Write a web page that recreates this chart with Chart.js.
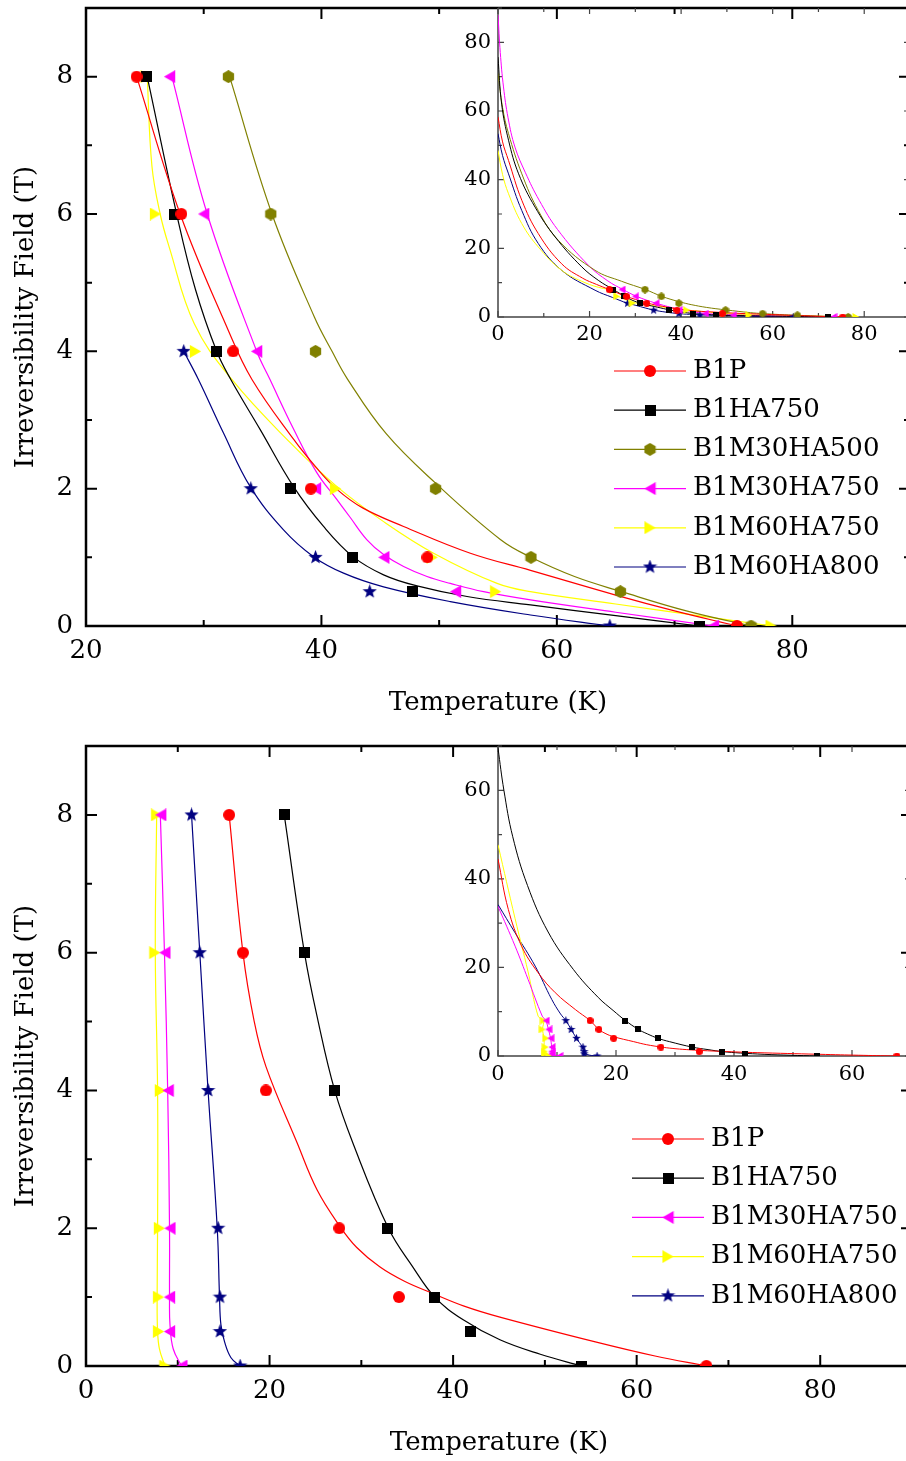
<!DOCTYPE html>
<html>
<head>
<meta charset="utf-8">
<title>Irreversibility field vs temperature</title>
<script src="https://cdn.jsdelivr.net/npm/chart.js@4/dist/chart.umd.min.js"></script>
<style>
  html, body { margin: 0; padding: 0; background: #fff; overflow: hidden; }
  .panel { position: relative; width: 906px; }
  canvas { position: absolute; }
</style>
</head>
<body>
<div class="panel" style="height:738px">
  <canvas id="topMain" width="920" height="738" style="left:0;top:0"></canvas>
  <canvas id="topInset" width="480" height="350" style="left:440px;top:0"></canvas>
</div>
<div class="panel" style="height:723px">
  <canvas id="botMain" width="920" height="723" style="left:0;top:0"></canvas>
  <canvas id="botInset" width="480" height="345" style="left:440px;top:0"></canvas>
</div>
<script>
// Irreversibility field (T) vs temperature (K), two sample sets, each with a zoomed-out inset

// ---------- top panel data ----------
const topSeries = ['B1P', 'B1HA750', 'B1M30HA500', 'B1M30HA750', 'B1M60HA750', 'B1M60HA800'];

// measured points
const topT_B1P = [24.3, 28.1, 32.5, 39.1, 49.0, 75.3];
const topH_B1P = [8, 6, 4, 2, 1, 0];
const topT_HA750 = [25.1, 27.5, 31.05, 37.4, 42.6, 47.7, 72.1];
const topH_HA750 = [8, 6, 4, 2, 1, 0.5, 0];
const topT_M30HA500 = [32.1, 35.7, 39.5, 49.7, 57.8, 65.4, 76.5];
const topH_M30HA500 = [8, 6, 4, 2, 1, 0.5, 0];
const topT_M30HA750 = [27.1, 30.0, 34.5, 39.5, 45.3, 51.4, 73.3];
const topH_M30HA750 = [8, 6, 4, 2, 1, 0.5, 0];
const topT_M60HA750 = [25.1, 25.9, 29.3, 41.2, 49.4, 54.8, 78.2];
const topH_M60HA750 = [8, 6, 4, 2, 1, 0.5, 0];
const topT_M60HA800 = [28.3, 34.0, 39.5, 44.1, 64.5];
const topH_M60HA800 = [4, 2, 1, 0.5, 0];

// fitted curves [T, H]
const topFit_B1P = [[24.3, 8], [28.0, 6], [32.1, 4.3], [34.1, 3.59], [37.63, 2.72], [39.5, 2.32], [41.32, 1.99], [43.5, 1.72], [46.98, 1.45], [52.65, 1.06], [57.76, 0.81], [65.0, 0.45], [70.0, 0.22], [75.3, 0]];
const topFit_HA750 = [[25.2, 8], [27.7, 6], [29.3, 4.9], [31.1, 4.0], [32.3, 3.59], [34.8, 2.86], [37.63, 2.03], [40.18, 1.45], [42.68, 1.01], [45.28, 0.745], [48.12, 0.584], [52.37, 0.43], [57.76, 0.307], [65.0, 0.15], [72.1, 0]];
const topFit_M30HA500 = [[32.2, 8], [35.8, 6], [39.4, 4.5], [40.9, 4.0], [42.2, 3.6], [45.5, 2.8], [49.7, 2.08], [55.2, 1.26], [57.8, 1.0], [61.5, 0.72], [65.5, 0.5], [71.0, 0.22], [76.5, 0]];
const topFit_M30HA750 = [[27.3, 8], [30.3, 6], [34.5, 4], [35.6, 3.6], [37.6, 2.88], [39.62, 2.23], [41.32, 1.84], [42.45, 1.58], [43.87, 1.255], [45.28, 1.04], [46.98, 0.866], [48.97, 0.72], [50.95, 0.62], [53.78, 0.5], [57.76, 0.38], [65.0, 0.2], [73.3, 0]];
const topFit_M60HA750 = [[25.2, 8], [25.6, 6.7], [26.3, 6], [27.1, 5.5], [29.2, 4.4], [32.39, 3.59], [37.35, 2.67], [41.32, 2.03], [45.28, 1.52], [49.53, 1.06], [54.92, 0.62], [57.76, 0.5], [65.0, 0.32], [72.0, 0.15], [78.3, 0]];
const topFit_M60HA800 = [[28.3, 4], [29.55, 3.59], [31.68, 2.81], [33.95, 2.03], [36.78, 1.40], [39.33, 1.01], [41.88, 0.77], [45.28, 0.57], [50.95, 0.355], [57.76, 0.16], [64.5, 0]];

// low-temperature part of the fits, only seen in the inset
const topHead_B1P = [[0, 58.3], [1, 51], [2.3, 45.6], [5.2, 34], [8.8, 24.3], [13.9, 15.5], [18.5, 11.3], [21.5, 9.5]];
const topHead_HA750 = [[0, 75.7], [0.8, 62], [2.3, 51.5], [4.5, 41.7], [8.1, 32], [12.5, 23.3], [18.3, 14.6], [22.0, 10.6]];
const topHead_M30HA500 = [[0, 71], [1, 61], [2.3, 53.4], [5.2, 41.7], [8.8, 31], [13.2, 22.3], [21.2, 13.6], [27.0, 10.4]];
const topHead_M30HA750 = [[0, 88], [0.5, 77], [1.2, 67], [2.2, 58], [3.7, 49.5], [6.0, 42], [9.0, 34], [13.0, 25.5], [19.8, 15], [24.0, 10.5]];
const topHead_M60HA750 = [[0, 48.5], [1, 41.5], [2.3, 35.9], [5.2, 27.2], [8.8, 20.4], [13.9, 13.6], [19.0, 10], [23.0, 8.3]];
const topHead_M60HA800 = [[0, 53.4], [1, 47], [2.3, 41.7], [5.2, 31], [8.8, 21.4], [13.9, 13.6], [21.2, 7.8], [25.0, 5.7]];

// ---------- bottom panel data ----------
const botSeries = ['B1P', 'B1HA750', 'B1M30HA750', 'B1M60HA750', 'B1M60HA800'];

const botT_B1P = [15.6, 17.1, 19.6, 27.6, 34.1, 67.6];
const botH_B1P = [8, 6, 4, 2, 1, 0];
const botT_HA750 = [21.6, 23.8, 27.1, 32.9, 38.0, 41.9, 54.0];
const botH_HA750 = [8, 6, 4, 2, 1, 0.5, 0];
const botT_M30HA750 = [8.15, 8.6, 8.95, 9.15, 9.1, 9.1, 10.45];
const botH_M30HA750 = [8, 6, 4, 2, 1, 0.5, 0];
const botT_M60HA750 = [7.7, 7.5, 8.1, 8.0, 7.9, 7.9, 8.6];
const botH_M60HA750 = [8, 6, 4, 2, 1, 0.5, 0];
const botT_M60HA800 = [11.5, 12.4, 13.3, 14.4, 14.6, 14.6, 16.8];
const botH_M60HA800 = [8, 6, 4, 2, 1, 0.5, 0];

const botFit_B1P = [[15.6, 8], [17.1, 6], [18.3, 5.02], [19.6, 4.35], [23.0, 3.24], [25.2, 2.55], [27.7, 2.02], [29.5, 1.72], [32.0, 1.44], [34.7, 1.23], [37.85, 1.05], [41.2, 0.87], [45.1, 0.71], [55.5, 0.35], [62.0, 0.145], [67.6, 0]];
const botFit_HA750 = [[21.6, 8], [23.8, 6], [25.3, 5.0], [27.1, 4.0], [29.1, 3.23], [32.95, 2.0], [35.6, 1.44], [38.0, 1.0], [41.1, 0.67], [45.1, 0.38], [49.5, 0.17], [54.0, 0]];
const botFit_M30HA750 = [[8.1, 8], [8.55, 6], [8.9, 4], [9.1, 2], [9.1, 1], [9.15, 0.6], [9.5, 0.25], [10.4, 0]];
const botFit_M60HA750 = [[7.7, 8], [7.55, 6], [7.8, 4], [7.8, 2], [7.75, 1], [7.8, 0.5], [8.0, 0.25], [8.6, 0]];
const botFit_M60HA800 = [[11.5, 8], [12.4, 6], [13.3, 4], [14.3, 2], [14.55, 1], [14.7, 0.6], [15.1, 0.35], [15.8, 0.12], [16.8, 0]];

const botHead_B1P = [[0, 44.5], [1.75, 33.1], [4.0, 24.8], [6.8, 18.8], [9.7, 14.3], [13.1, 10.5]];
const botHead_HA750 = [[0, 69.5], [1, 60], [2.5, 49.5], [5, 38.5], [8.5, 28], [12.8, 19.5], [17.0, 13.2], [19.5, 10.3]];
const botHead_M30HA750 = [[0, 33.8], [2.9, 24.8], [5.1, 17.3], [7.5, 9]];
const botHead_M60HA750 = [[0, 47.7], [2.9, 31], [5.1, 19], [6.8, 9]];
const botHead_M60HA800 = [[0, 34.2], [2.9, 27.8], [6.3, 20.3], [9.1, 12.8], [10.6, 9.5]];

// ---------- styling ----------
const FONT = 'DejaVu Serif';
Chart.defaults.font.family = FONT;
Chart.defaults.color = '#000';

const RED = '#ff0000', BLACK = '#000000', OLIVE = '#808000', MAGENTA = '#ff00ff', YELLOW = '#ffff00', NAVY = '#000080';

// Origin-like symbols drawn once into small canvases
function marker(kind, color, s) {
  const c = document.createElement('canvas');
  c.width = s; c.height = s;
  const g = c.getContext('2d');
  const m = s / 2;
  g.fillStyle = color;
  g.beginPath();
  if (kind === 'circle') {
    g.arc(m, m, m, 0, Math.PI * 2);
  } else if (kind === 'square') {
    g.rect(0, 0, s, s);
  } else if (kind === 'hexagon') {
    for (let i = 0; i < 6; i++) {
      const t = -Math.PI / 2 + i * Math.PI / 3;
      g.lineTo(m + m * Math.cos(t), m + m * Math.sin(t));
    }
  } else if (kind === 'left' || kind === 'right') {
    const w = s * 0.87, x0 = m - w / 2, x1 = m + w / 2;
    if (kind === 'left') { g.moveTo(x0, m); g.lineTo(x1, 0); g.lineTo(x1, s); }
    else { g.moveTo(x1, m); g.lineTo(x0, 0); g.lineTo(x0, s); }
  } else if (kind === 'star') {
    for (let i = 0; i < 10; i++) {
      const r = i % 2 ? m * 0.42 : m;
      const t = -Math.PI / 2 + i * Math.PI / 5;
      g.lineTo(m + r * Math.cos(t), m + r * Math.sin(t));
    }
  }
  g.closePath();
  g.fill();
  return c;
}

const bigSize = {circle: 12, square: 11, hexagon: 13, left: 13, right: 13, star: 15};
const smallSize = {circle: 7, square: 6, hexagon: 8, left: 8, right: 8, star: 9};

const topDefs = [
  {color: RED, kind: 'circle', T: topT_B1P, H: topH_B1P, fit: topFit_B1P, head: topHead_B1P},
  {color: BLACK, kind: 'square', T: topT_HA750, H: topH_HA750, fit: topFit_HA750, head: topHead_HA750},
  {color: OLIVE, kind: 'hexagon', T: topT_M30HA500, H: topH_M30HA500, fit: topFit_M30HA500, head: topHead_M30HA500},
  {color: MAGENTA, kind: 'left', T: topT_M30HA750, H: topH_M30HA750, fit: topFit_M30HA750, head: topHead_M30HA750},
  {color: YELLOW, kind: 'right', T: topT_M60HA750, H: topH_M60HA750, fit: topFit_M60HA750, head: topHead_M60HA750},
  {color: NAVY, kind: 'star', T: topT_M60HA800, H: topH_M60HA800, fit: topFit_M60HA800, head: topHead_M60HA800}
];
topDefs.forEach((d, i) => { d.label = topSeries[i]; });

const botDefs = [
  {color: RED, kind: 'circle', T: botT_B1P, H: botH_B1P, fit: botFit_B1P, head: botHead_B1P},
  {color: BLACK, kind: 'square', T: botT_HA750, H: botH_HA750, fit: botFit_HA750, head: botHead_HA750},
  {color: MAGENTA, kind: 'left', T: botT_M30HA750, H: botH_M30HA750, fit: botFit_M30HA750, head: botHead_M30HA750},
  {color: YELLOW, kind: 'right', T: botT_M60HA750, H: botH_M60HA750, fit: botFit_M60HA750, head: botHead_M60HA750},
  {color: NAVY, kind: 'star', T: botT_M60HA800, H: botH_M60HA800, fit: botFit_M60HA800, head: botHead_M60HA800}
];
botDefs.forEach((d, i) => { d.label = botSeries[i]; });

function buildSets(defs, inset) {
  const sizes = inset ? smallSize : bigSize;
  const sets = [];
  defs.forEach(d => {
    const curve = inset ? d.head.concat(d.fit) : d.fit;
    sets.push({
      data: curve.map(p => ({x: p[0], y: p[1]})),
      tension: 0.4,
      borderColor: d.color, borderWidth: inset ? 1 : 1.2,
      pointRadius: 0, order: 2, clip: 0
    });
    sets.push({
      data: d.T.map((t, i) => ({x: t, y: d.H[i]})),
      showLine: false, pointStyle: marker(d.kind, d.color, sizes[d.kind]),
      pointRadius: sizes[d.kind] / 2, order: 1, clip: 0
    });
  });
  return sets;
}

// fixed axis boxes, no automatic padding from tick labels
function fixBox(s, w, h) {
  if (w !== null) s.width = w;
  if (h !== null) s.height = h;
  s.paddingTop = 0; s.paddingBottom = 0; s.paddingLeft = 0; s.paddingRight = 0;
}

// inward tick marks and the frame
function isMajor(v, step) { return Math.abs(v / step - Math.round(v / step)) < 1e-6; }
const frameTicks = {
  id: 'frameTicks',
  beforeDatasetsDraw(chart, args, o) {
    const {ctx, chartArea: a} = chart;
    const sx = chart.scales.x, sy = chart.scales.y;
    ctx.save();
    ctx.strokeStyle = o.color;
    ctx.lineWidth = o.tickWidth;
    ctx.beginPath();
    const nx = Math.round((sx.max - sx.min) / o.xMinor);
    for (let i = 0; i <= nx; i++) {
      const v = sx.min + i * o.xMinor;
      const p = sx.getPixelForValue(v);
      const len = isMajor(v, o.xMajor) ? o.major : o.minor;
      ctx.moveTo(p, a.bottom); ctx.lineTo(p, a.bottom - len);
      ctx.moveTo(p, a.top); ctx.lineTo(p, a.top + len);
    }
    const ny = Math.round((sy.max - sy.min) / o.yMinor);
    for (let i = 0; i <= ny; i++) {
      const v = sy.min + i * o.yMinor;
      const p = sy.getPixelForValue(v);
      const len = isMajor(v, o.yMajor) ? o.major : o.minor;
      ctx.moveTo(a.left, p); ctx.lineTo(a.left + len, p);
      ctx.moveTo(a.right, p); ctx.lineTo(a.right - len, p);
    }
    ctx.stroke();
    ctx.lineWidth = o.lineWidth;
    ctx.beginPath();
    if (o.box) {
      ctx.rect(a.left, a.top, a.right - a.left, a.bottom - a.top);
    } else {
      ctx.moveTo(a.left, a.top); ctx.lineTo(a.left, a.bottom); ctx.lineTo(a.right, a.bottom);
    }
    ctx.stroke();
    ctx.restore();
  }
};

// legend in Origin style: line with the symbol in the middle
const seriesKey = {
  id: 'seriesKey',
  afterDraw(chart, args, o) {
    if (!o.defs) return;
    const ctx = chart.ctx;
    ctx.save();
    ctx.font = o.size + 'px "' + FONT + '"';
    ctx.textBaseline = 'middle';
    o.defs.forEach((d, i) => {
      const y = o.y + i * o.gap;
      ctx.strokeStyle = d.color;
      ctx.lineWidth = 1.2;
      ctx.beginPath();
      ctx.moveTo(o.x, y); ctx.lineTo(o.x + o.len, y);
      ctx.stroke();
      const img = marker(d.kind, d.color, bigSize[d.kind]);
      ctx.drawImage(img, o.x + o.len / 2 - img.width / 2, y - img.height / 2);
      ctx.fillStyle = '#000';
      ctx.fillText(d.label, o.x + o.len + o.textGap, y);
    });
    ctx.restore();
  }
};

function mainChart(id, defs, cfg) {
  return new Chart(document.getElementById(id), {
    type: 'line',
    data: {datasets: buildSets(defs, false)},
    plugins: [frameTicks, seriesKey],
    options: {
      responsive: false, animation: false, events: [],
      layout: {autoPadding: false, padding: {left: 0, top: 8, right: cfg.padRight, bottom: 0}},
      plugins: {
        legend: {display: false}, tooltip: {enabled: false},
        frameTicks: {box: true, color: '#000', lineWidth: 2.5, tickWidth: 2, major: 11, minor: 6,
                     xMajor: 20, xMinor: 10, yMajor: 2, yMinor: 1},
        seriesKey: {defs: defs, x: cfg.keyX, y: cfg.keyY, gap: 39.2, len: 72, textGap: 7, size: 26}
      },
      scales: {
        x: {
          type: 'linear', min: cfg.xMin, max: 90,
          afterFit: s => fixBox(s, null, cfg.xHeight),
          grid: {display: false, drawTicks: false}, border: {display: false},
          ticks: {stepSize: 20, includeBounds: false, padding: 10, font: {size: 26, lineHeight: 1.2}},
          title: {display: true, text: 'Temperature (K)', font: {size: 26, lineHeight: 1.2},
                  padding: {top: 0, bottom: cfg.titlePad}}
        },
        y: {
          type: 'linear', min: 0, max: 9,
          afterFit: s => fixBox(s, 86, null),
          grid: {display: false, drawTicks: false}, border: {display: false},
          ticks: {stepSize: 2, includeBounds: false, padding: 13, font: {size: 26, lineHeight: 1.2}},
          title: {display: true, text: 'Irreversibility Field (T)', font: {size: 26, lineHeight: 1.2},
                  padding: {top: 11, bottom: 0}}
        }
      }
    }
  });
}

function insetChart(id, defs, cfg) {
  return new Chart(document.getElementById(id), {
    type: 'line',
    data: {datasets: buildSets(defs, true)},
    plugins: [frameTicks],
    options: {
      responsive: false, animation: false, events: [],
      layout: {autoPadding: false, padding: {left: 0, top: 8, right: cfg.padRight, bottom: 0}},
      plugins: {
        legend: {display: false}, tooltip: {enabled: false},
        frameTicks: {box: false, color: '#444', lineWidth: 1.5, tickWidth: 1.2, major: 6, minor: 4,
                     xMajor: 20, xMinor: 10, yMajor: 20, yMinor: 10}
      },
      scales: {
        x: {
          type: 'linear', min: 0, max: cfg.max,
          afterFit: s => fixBox(s, null, cfg.xHeight),
          grid: {display: false, drawTicks: false}, border: {display: false},
          ticks: {stepSize: 20, includeBounds: false, padding: cfg.xPad, font: {size: 21, lineHeight: 1.2}}
        },
        y: {
          type: 'linear', min: 0, max: cfg.max,
          afterFit: s => fixBox(s, 58, null),
          grid: {display: false, drawTicks: false}, border: {display: false},
          ticks: {stepSize: 20, includeBounds: false, padding: 7, font: {size: 21, lineHeight: 1.2}}
        }
      }
    }
  });
}

mainChart('topMain', topDefs, {xMin: 20, padRight: 10, xHeight: 112, titlePad: 19, keyX: 614, keyY: 371});
insetChart('topInset', topDefs, {max: 90, padRight: 10, xHeight: 33, xPad: 5});
mainChart('botMain', botDefs, {xMin: 0, padRight: 8, xHeight: 95, titlePad: 2, keyX: 632, keyY: 401});
insetChart('botInset', botDefs, {max: 70, padRight: 9, xHeight: 27, xPad: 6});
</script>
</body>
</html>
